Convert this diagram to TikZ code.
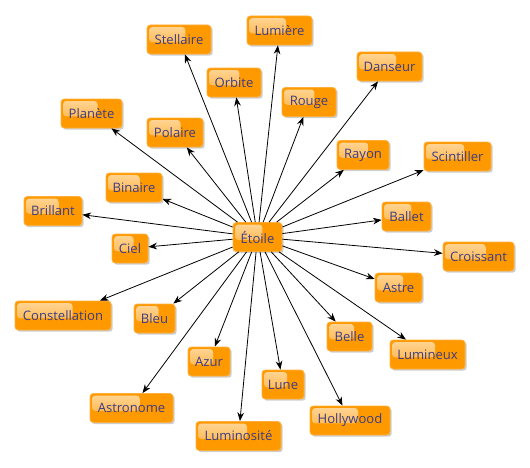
\documentclass[tikz,border=0pt]{standalone}
\usepackage{fontspec}
\setmainfont{Open Sans}
\usetikzlibrary{shadows,arrows.meta,calc}
\definecolor{boxorange}{RGB}{255,153,0}
\definecolor{boxedge}{RGB}{255,175,60}
\definecolor{txtblue}{RGB}{60,60,135}
\begin{document}
\begin{tikzpicture}[x=0.75pt,y=-0.75pt,
  wbox/.style={draw=boxedge, line width=0.6pt, fill=boxorange, rounded corners=2.5pt,
    minimum height=21.75pt, inner sep=0pt, text=txtblue,
    font=\fontsize{9.8pt}{11pt}\selectfont,
    drop shadow={shadow xshift=1.3pt, shadow yshift=-1.3pt, opacity=0.28, fill=black!70},
    path picture={\shade[top color=white!60!boxorange, bottom color=white!18!boxorange, rounded corners=2.5pt]
      ([shift={(1.5pt,-1.5pt)}]path picture bounding box.north west) rectangle
      ($(path picture bounding box.north west)!0.6!(path picture bounding box.south east)$);}},
  arr/.style={-{Stealth[length=6.5pt,width=5pt]}, line width=0.6pt, black}]
\useasboundingbox (0,0) rectangle (530,467);
\node[wbox, minimum width=36.75pt] (etoile) at (257.5,237) {Étoile};
\node[wbox, minimum width=48pt] (stellaire) at (179,39.5) {Stellaire};
\node[wbox, minimum width=48.75pt] (lumiere) at (279.5,30.5) {Lumière};
\node[wbox, minimum width=40.5pt] (orbite) at (234,82.5) {Orbite};
\node[wbox, minimum width=48.75pt] (danseur) at (389.5,66.5) {Danseur};
\node[wbox, minimum width=40.5pt] (rouge) at (309,102) {Rouge};
\node[wbox, minimum width=45.75pt] (planete) at (91.5,113.5) {Planète};
\node[wbox, minimum width=42pt] (polaire) at (175,132.5) {Polaire};
\node[wbox, minimum width=39pt] (rayon) at (363,155) {Rayon};
\node[wbox, minimum width=50.25pt] (scintiller) at (457.5,156.5) {Scintiller};
\node[wbox, minimum width=42pt] (binaire) at (134,187.5) {Binaire};
\node[wbox, minimum width=43.5pt] (brillant) at (53,211) {Brillant};
\node[wbox, minimum width=36.75pt] (ballet) at (406.5,216.5) {Ballet};
\node[wbox, minimum width=27pt] (ciel) at (130,248.5) {Ciel};
\node[wbox, minimum width=53.25pt] (croissant) at (478.5,256.5) {Croissant};
\node[wbox, minimum width=35.25pt] (astre) at (398.5,287.5) {Astre};
\node[wbox, minimum width=72pt] (constellation) at (63,315.5) {Constellation};
\node[wbox, minimum width=30.75pt] (bleu) at (154.5,318.5) {Bleu};
\node[wbox, minimum width=33.75pt] (belle) at (349.5,336.5) {Belle};
\node[wbox, minimum width=56.25pt] (lumineux) at (427.5,354.5) {Lumineux};
\node[wbox, minimum width=31.5pt] (azur) at (209,361.5) {Azur};
\node[wbox, minimum width=31.5pt] (lune) at (283,384.5) {Lune};
\node[wbox, minimum width=62.25pt] (astronome) at (131.5,408) {Astronome};
\node[wbox, minimum width=60pt] (hollywood) at (350,420.5) {Hollywood};
\node[wbox, minimum width=63.75pt] (luminosite) at (238.5,436) {Luminosité};
\foreach \t in {stellaire,lumiere,orbite,danseur,rouge,planete,polaire,rayon,scintiller,
  binaire,brillant,ballet,ciel,croissant,astre,constellation,bleu,belle,lumineux,azur,lune,
  astronome,hollywood,luminosite}
  \draw[arr] (etoile) -- (\t);
\end{tikzpicture}
\end{document}
